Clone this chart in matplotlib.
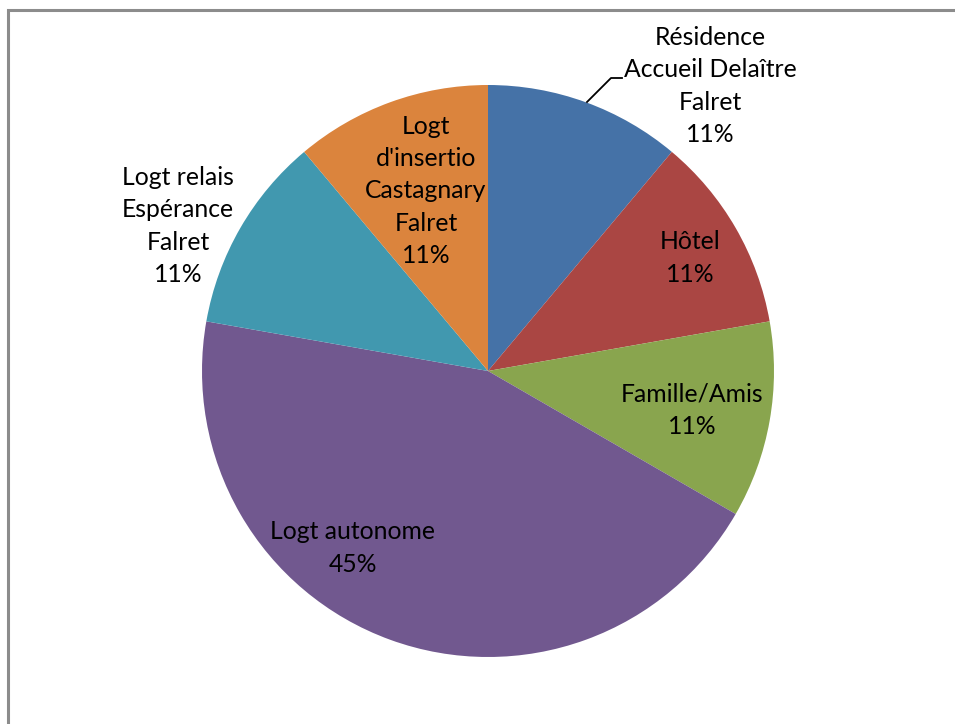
import matplotlib
matplotlib.use("Agg")
import matplotlib.pyplot as plt
from matplotlib.patches import Rectangle

categories = ["Résidence\nAccueil Delaître\nFalret", "Hôtel", "Famille/Amis",
              "Logt autonome", "Logt relais\nEspérance\nFalret",
              "Logt\nd'insertio\nCastagnary\nFalret"]
values = [1, 1, 1, 4, 1, 1]
pct_labels = ["11%", "11%", "11%", "45%", "11%", "11%"]
colors = ["#4572A7", "#AA4643", "#89A54E", "#71588F", "#4198AF", "#DB843D"]

W, H = 955, 724
cx, cy, R = 488, 371, 286

fig = plt.figure(figsize=(W / 100, H / 100), dpi=100)
fig.patch.set_facecolor("white")

# chart border
fig.patches.append(Rectangle((8 / W, -0.1), 1.2, (H - 10) / H + 0.1, transform=fig.transFigure,
                             fill=False, edgecolor="#8c8c8c", linewidth=2.2))

ax = fig.add_axes([(cx - R) / W, (H - cy - R) / H, 2 * R / W, 2 * R / H])
ax.pie(values, colors=colors, startangle=90, counterclock=False, radius=1,
       wedgeprops=dict(linewidth=0))
ax.set_xlim(-1, 1)
ax.set_ylim(-1, 1)
ax.set_aspect("equal")
ax.axis("off")

def d(px, py):
    return (px - cx) / R, (cy - py) / R

label_pos = [(710, 86), (690, 258), (692, 410), (353, 548), (178, 226), (426, 191)]
font = dict(family=["Lato", "DejaVu Sans"], fontsize=17.8, color="black")
for cat, pct, (px, py) in zip(categories, pct_labels, label_pos):
    x, y = d(px, py)
    ax.text(x, y, cat + "\n" + pct, ha="center", va="center", multialignment="center",
            linespacing=1.48, clip_on=False, **font)

# leader line for first label
pts = [d(587, 102), d(611, 78), d(622, 78)]
ax.plot([p[0] for p in pts], [p[1] for p in pts], color="black", linewidth=1.3, clip_on=False)

fig.savefig("out.png", dpi=100, facecolor="white")
